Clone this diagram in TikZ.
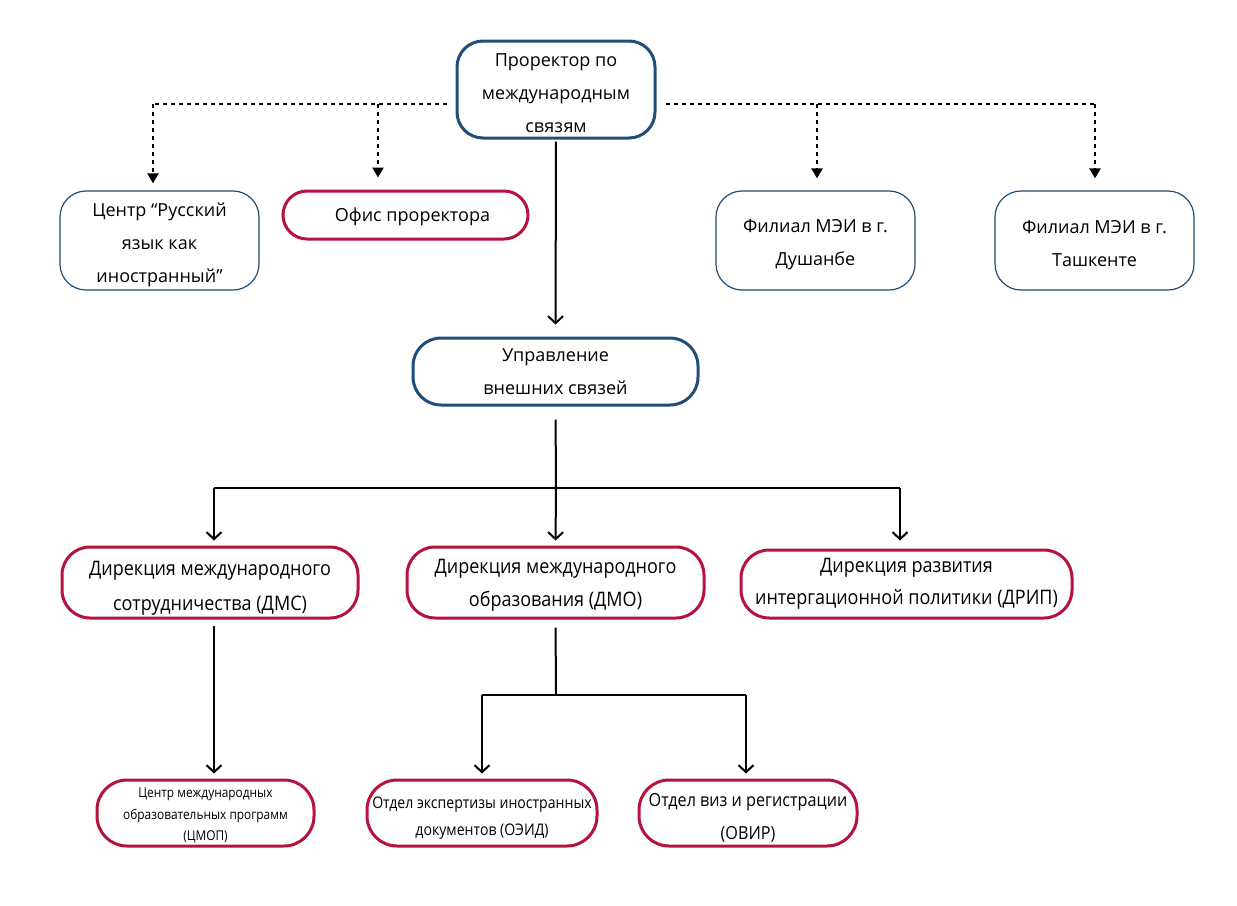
\documentclass[tikz,border=0pt]{standalone}
\usepackage{fontspec}
\setmainfont{Open Sans}
\newfontfamily\cnd{Open Sans}[FakeStretch=0.9]
\newfontfamily\cndb{Open Sans}[FakeStretch=0.88]
\usetikzlibrary{arrows.meta}
\definecolor{dblue}{HTML}{1F4E79}
\definecolor{dred}{HTML}{B5123E}
\newcommand\mystrut[1]{\rule{0pt}{#1}}
\tikzset{
  bluebox/.style={draw=dblue, line width=3pt, rounded corners=26pt, align=center, inner sep=0pt, fill=white},
  thinbox/.style={draw=dblue, line width=1.2pt, rounded corners=26pt, align=center, inner sep=0pt},
  redbox/.style={draw=dred, line width=3pt, rounded corners=28pt, align=center, inner sep=0pt},
  dsh/.style={line width=2.2pt, dash pattern=on 4pt off 4pt, -{Triangle[length=10pt,width=11pt]}},
  dshl/.style={line width=2.2pt, dash pattern=on 4pt off 4pt},
  sol/.style={line width=2pt, -{Straight Barb[length=7pt,width=15pt,line width=2pt]}},
  soll/.style={line width=2pt},
  tA/.style={font=\fontsize{18}{33}\selectfont},
}
\begin{document}
\begin{tikzpicture}[x=1pt,y=-1pt]
\useasboundingbox[fill=white] (0,0) rectangle (1237,905);
% top
\node[bluebox, tA, minimum width=198pt, minimum height=97pt] (pr) at (556,89.5) {\mystrut{21pt}Проректор по\\международным\\связям};
\node[thinbox, tA, minimum width=199pt, minimum height=99pt] (ru) at (159.5,240.5) {\mystrut{22pt}Центр “Русский\\язык как\\иностранный”};
\node[redbox, tA, rounded corners=24pt, minimum width=245pt, minimum height=48pt] (of) at (405.5,215) {\mystrut{17pt}\hspace*{14pt}Офис проректора};
\node[thinbox, tA, minimum width=199pt, minimum height=99pt] (du) at (815.5,240.5) {\mystrut{21pt}Филиал МЭИ в г.\\Душанбе};
\node[thinbox, tA, minimum width=199pt, minimum height=99pt] (ta) at (1094.5,240.5) {\mystrut{19pt}Филиал МЭИ в г.\\Ташкенте};
\node[bluebox, tA, rounded corners=28pt, minimum width=285pt, minimum height=67pt] (uv) at (555.5,371.5) {Управление\\внешних связей};
% directions
\node[redbox, font=\cnd\fontsize{20}{35}\selectfont, minimum width=296pt, minimum height=71pt] (dms) at (210,582.5) {\mystrut{26pt}Дирекция международного\\сотрудничества (ДМС)};
\node[redbox, font=\cnd\fontsize{20}{33}\selectfont, minimum width=297pt, minimum height=71pt] (dmo) at (555.5,582.5) {\mystrut{20pt}Дирекция международного\\образования (ДМО)};
\node[redbox, font=\cnd\fontsize{20}{32}\selectfont, minimum width=331pt, minimum height=68pt] (drip) at (906.5,584) {Дирекция развития\\интергационной политики (ДРИП)};
% bottom
\node[redbox, font=\cndb\fontsize{13.5}{21.5}\selectfont, rounded corners=30pt, minimum width=217pt, minimum height=66pt] (cm) at (205.5,813) {\mystrut{15pt}Центр международных\\образовательных программ\\(ЦМОП)};
\node[redbox, font=\cndb\fontsize{16}{27}\selectfont, rounded corners=30pt, minimum width=230pt, minimum height=66pt] (oe) at (482,813) {\mystrut{21pt}Отдел экспертизы иностранных\\документов (ОЭИД)};
\node[redbox, font=\cnd\fontsize{18}{33}\selectfont, rounded corners=30pt, minimum width=218pt, minimum height=66pt] (ov) at (748,813) {\mystrut{23pt}Отдел виз и регистрации\\(ОВИР)};
% dashed connectors
\coordinate (dl) at (447,104);
\coordinate (dr) at (666,104);
\coordinate (d1) at (153,104);
\coordinate (d2) at (378,104);
\coordinate (d3) at (817,104);
\coordinate (d4) at (1095,104);
\draw[dshl] (dl) -- (d1);
\draw[dshl] (dr) -- (d4);
\draw[dsh, shorten >=7pt] (d1) -- (d1 |- ru.north);
\draw[dsh, shorten >=12pt] (d2) -- (d2 |- of.north);
\draw[dsh, shorten >=12pt] (d3) -- (d3 |- du.north);
\draw[dsh, shorten >=12pt] (d4) -- (d4 |- ta.north);
% solid connectors
\draw[sol, shorten <=2pt, shorten >=12pt] (pr.south) -- (uv.north);
\coordinate (h1) at (556,488);
\coordinate (h1l) at (214,488);
\coordinate (h1r) at (900,488);
\draw[soll, shorten <=13pt] (uv.south) -- (h1);
\draw[soll] (h1l) -- (h1r);
\draw[sol, shorten >=5pt] (h1l) -- (h1l |- dms.north);
\draw[sol, shorten >=5pt] (h1) -- (dmo.north);
\draw[sol, shorten >=8pt] (h1r) -- (h1r |- drip.north);
\coordinate (v1) at (214,618);
\draw[sol, shorten <=8pt, shorten >=5pt] (v1) -- (v1 |- cm.north);
\coordinate (h2) at (556,695);
\coordinate (h2l) at (482,695);
\coordinate (h2r) at (746,695);
\draw[soll, shorten <=8pt] (dmo.south) -- (h2);
\draw[soll] (h2l) -- (h2r);
\draw[sol, shorten >=5pt] (h2l) -- (oe.north);
\draw[sol, shorten >=5pt] (h2r) -- (h2r |- ov.north);
\end{tikzpicture}
\end{document}
